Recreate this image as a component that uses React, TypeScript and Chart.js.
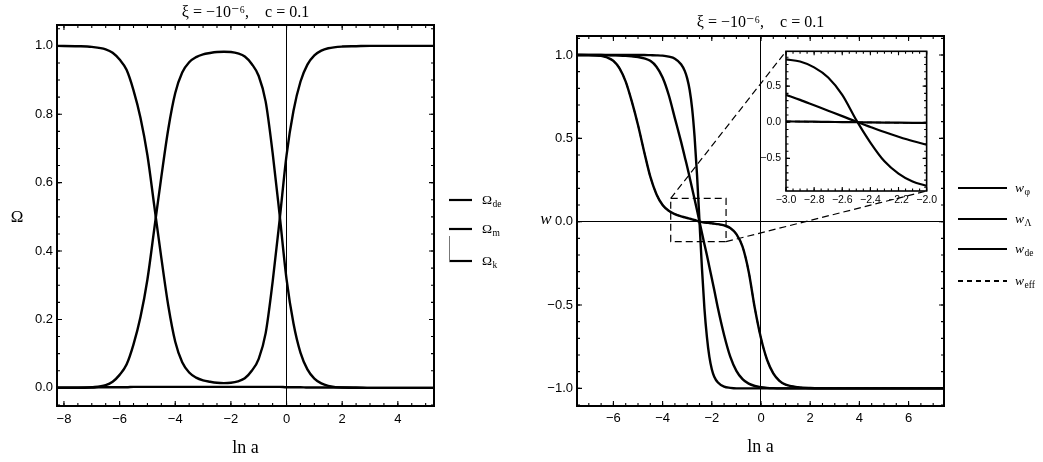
import React, { useEffect, useRef } from 'react';
import { Chart, registerables } from 'chart.js';

Chart.register(...registerables);

// ---------------- data: left panel (density parameters) ----------------
const lnALeft = [-8.25, -7.5, -7, -6.5, -6.25, -6, -5.75, -5.5, -5.25, -5, -4.75, -4.5, -4.25, -4, -3.75, -3.5, -3.25, -3, -2.75, -2.5, -2.25, -2, -1.75, -1.5, -1.25, -1, -0.75, -0.5, -0.25, 0, 0.25, 0.5, 0.75, 1, 1.25, 1.5, 2, 2.5, 3, 4, 5.3];
const omegaDe = [1.0, 0.999, 0.997, 0.99, 0.98, 0.96, 0.93, 0.87, 0.79, 0.68, 0.53, 0.38, 0.24, 0.135, 0.075, 0.045, 0.03, 0.022, 0.018, 0.015, 0.014, 0.015, 0.019, 0.028, 0.05, 0.085, 0.16, 0.31, 0.49, 0.68, 0.81, 0.895, 0.945, 0.972, 0.986, 0.993, 0.998, 0.999, 1.0, 1.0, 1.0];
const omegaM = [0.0, 0.0, 0.002, 0.008, 0.018, 0.038, 0.068, 0.127, 0.207, 0.317, 0.467, 0.617, 0.757, 0.862, 0.922, 0.952, 0.967, 0.975, 0.979, 0.982, 0.983, 0.982, 0.978, 0.969, 0.947, 0.912, 0.837, 0.687, 0.507, 0.318, 0.188, 0.103, 0.054, 0.027, 0.013, 0.006, 0.001, 0.001, 0.0, 0.0, 0.0];
const omegaK = [0.001, 0.001, 0.001, 0.002, 0.002, 0.002, 0.002, 0.003, 0.003, 0.003, 0.003, 0.003, 0.003, 0.003, 0.003, 0.003, 0.003, 0.003, 0.003, 0.003, 0.003, 0.003, 0.003, 0.003, 0.003, 0.003, 0.003, 0.003, 0.003, 0.002, 0.002, 0.002, 0.001, 0.001, 0.001, 0.001, 0.001, 0.0, 0.0, 0.0, 0.0];
const leftXTicks = [-8, -6, -4, -2, 0, 2, 4];
const leftYTicks = [0, 0.2, 0.4, 0.6, 0.8, 1.0];

// ---------------- data: right panel (equation of state) ----------------
const lnARight = [-7.48, -7, -6.5, -6.25, -6, -5.75, -5.5, -5.25, -5, -4.75, -4.5, -4.25, -4, -3.75, -3.5, -3.25, -3.1, -3, -2.9, -2.8, -2.7, -2.6, -2.5, -2.4, -2.3, -2.2, -2.1, -2, -1.9, -1.75, -1.5, -1.25, -1, -0.75, -0.5, -0.25, 0, 0.25, 0.5, 0.75, 1, 1.5, 2, 3, 7.44];
const wPhi = [1.0, 1.0, 1.0, 1.0, 1.0, 1.0, 1.0, 1.0, 1.0, 1.0, 0.999, 0.998, 0.996, 0.99, 0.978, 0.945, 0.905, 0.86, 0.79, 0.68, 0.51, 0.28, 0.0, -0.28, -0.52, -0.69, -0.81, -0.885, -0.93, -0.965, -0.99, -0.997, -1.0, -1.0, -1.0, -1.0, -1.0, -1.0, -1.0, -1.0, -1.0, -1.0, -1.0, -1.0, -1.0];
const wLambda = [1.0, 1.0, 1.0, 0.999, 0.998, 0.997, 0.995, 0.992, 0.988, 0.98, 0.965, 0.93, 0.865, 0.76, 0.62, 0.48, 0.39, 0.33, 0.265, 0.2, 0.135, 0.068, 0.0, -0.068, -0.135, -0.2, -0.27, -0.34, -0.41, -0.52, -0.68, -0.81, -0.895, -0.945, -0.972, -0.986, -0.993, -0.997, -0.999, -1.0, -1.0, -1.0, -1.0, -1.0, -1.0];
const wDe = [1.0, 0.999, 0.995, 0.985, 0.965, 0.92, 0.84, 0.72, 0.58, 0.42, 0.27, 0.165, 0.1, 0.065, 0.045, 0.032, 0.026, 0.022, 0.018, 0.014, 0.01, 0.005, 0.0, -0.003, -0.005, -0.007, -0.008, -0.01, -0.012, -0.015, -0.022, -0.038, -0.075, -0.15, -0.3, -0.52, -0.7, -0.83, -0.91, -0.955, -0.978, -0.993, -0.998, -1.0, -1.0];
const wEff = [1.0, 0.999, 0.995, 0.985, 0.965, 0.92, 0.84, 0.72, 0.58, 0.42, 0.27, 0.165, 0.1, 0.065, 0.045, 0.032, 0.026, 0.022, 0.018, 0.014, 0.01, 0.005, 0.0, -0.003, -0.005, -0.007, -0.008, -0.01, -0.012, -0.015, -0.022, -0.038, -0.075, -0.15, -0.3, -0.52, -0.7, -0.83, -0.91, -0.955, -0.978, -0.993, -0.998, -1.0, -1.0];
const rightXTicks = [-6, -4, -2, 0, 2, 4, 6];
const rightYTicks = [-1, -0.5, 0, 0.5, 1];

// ---------------- data: inset ----------------
const insetX = [-3.0, -2.9, -2.8, -2.7, -2.6, -2.5, -2.4, -2.3, -2.2, -2.1, -2.0];
const insetWPhi = [0.87, 0.84, 0.76, 0.62, 0.38, 0.03, -0.28, -0.54, -0.71, -0.82, -0.88];
const insetWLambda = [0.38, 0.31, 0.235, 0.16, 0.085, 0.007, -0.065, -0.135, -0.2, -0.26, -0.31];
const insetWDe = [0.012, 0.01, 0.008, 0.005, 0.003, 0.0, -0.002, -0.004, -0.006, -0.008, -0.01];
const insetWEff = [0.012, 0.01, 0.008, 0.005, 0.003, 0.0, -0.002, -0.004, -0.006, -0.008, -0.01];
const insetXTicks = [-3.0, -2.8, -2.6, -2.4, -2.2, -2.0];
const insetYTicks = [-0.5, 0, 0.5];

// zoomed region marked on the right panel (data coordinates)
const zoomBoxX = [-3.67, -1.42];
const zoomBoxY = [-0.12, 0.14];

// ---------------- styling ----------------
const SANS = "'Liberation Sans', Arial, sans-serif";
const SERIF = "'Liberation Serif', 'DejaVu Serif', 'Times New Roman', serif";
const INK = '#000';

const LEFT_POS = { left: 0, top: 0, width: 520, height: 462 };
const RIGHT_POS = { left: 520, top: 0, width: 523, height: 462 };
const INSET_POS = { left: 740, top: 40, width: 200, height: 175 };

const pts = (xs: number[], ys: number[]) => xs.map((x, i) => ({ x, y: ys[i] }));
const fmt = (d: number) => (v: any) => Number(v).toFixed(d).replace('-', '\u2212');

const frameTicks = {
  id: 'frameTicks',
  afterDatasetsDraw(chart: any, _args: any, opts: any) {
    const { ctx, chartArea: a } = chart;
    const xs = chart.scales.x;
    const ys = chart.scales.y;
    ctx.save();
    ctx.strokeStyle = INK;
    ctx.lineWidth = 1.1;
    const along = (scale: any, step: number, len: number, horizontal: boolean) => {
      const i0 = Math.ceil(scale.min / step - 1e-6);
      const i1 = Math.floor(scale.max / step + 1e-6);
      ctx.beginPath();
      for (let i = i0; i <= i1; i++) {
        const p = scale.getPixelForValue(i * step);
        if (horizontal) {
          ctx.moveTo(p, a.bottom); ctx.lineTo(p, a.bottom - len);
          ctx.moveTo(p, a.top); ctx.lineTo(p, a.top + len);
        } else {
          ctx.moveTo(a.left, p); ctx.lineTo(a.left + len, p);
          ctx.moveTo(a.right, p); ctx.lineTo(a.right - len, p);
        }
      }
      ctx.stroke();
    };
    along(xs, opts.xMinor, opts.minorLen, true);
    along(xs, opts.xMajor, opts.majorLen, true);
    along(ys, opts.yMinor, opts.minorLen, false);
    along(ys, opts.yMajor, opts.majorLen, false);
    ctx.lineWidth = opts.frameWidth;
    ctx.strokeRect(a.left, a.top, a.right - a.left, a.bottom - a.top);
    ctx.restore();
  },
};

const lineDs = (label: string, data: any, extra: any = {}) => ({
  label,
  data,
  borderColor: '#000',
  backgroundColor: '#000',
  borderWidth: 2.4,
  pointRadius: 0,
  fill: false,
  cubicInterpolationMode: 'monotone',
  ...extra,
});

const zeroGrid = {
  drawTicks: false,
  color: (c: any) => (c.tick && Math.abs(c.tick.value) < 1e-9 ? '#000' : 'rgba(0,0,0,0)'),
  lineWidth: 1,
};

export default function App() {
  const leftRef = useRef<HTMLCanvasElement>(null);
  const rightRef = useRef<HTMLCanvasElement>(null);
  const insetRef = useRef<HTMLCanvasElement>(null);

  useEffect(() => {
    const charts: Chart[] = [];

    // ---------- left chart ----------
    charts.push(
      new Chart(leftRef.current as HTMLCanvasElement, {
        type: 'line',
        data: {
          datasets: [
            lineDs('\u03A9de', pts(lnALeft, omegaDe)),
            lineDs('\u03A9m', pts(lnALeft, omegaM)),
            lineDs('\u03A9k', pts(lnALeft, omegaK)),
          ],
        },
        plugins: [frameTicks],
        options: {
          responsive: false,
          animation: false,
          layout: { padding: { left: 0, right: 86, top: 0, bottom: 0 } },
          plugins: {
            legend: { display: false },
            tooltip: { enabled: false },
            title: {
              display: true,
              fullSize: false,
              text: '\u03BE = \u221210\u207B\u2076,    c = 0.1',
              color: INK,
              font: { family: SERIF, size: 16, weight: 'normal' },
              padding: { top: 3, bottom: 2.8 },
            },
            frameTicks: { xMajor: 2, xMinor: 0.5, yMajor: 0.2, yMinor: 0.05, majorLen: 5, minorLen: 3, frameWidth: 2 },
          } as any,
          scales: {
            x: {
              type: 'linear',
              min: -8.25,
              max: 5.3,
              afterBuildTicks: (s: any) => { s.ticks = leftXTicks.map((v) => ({ value: v })); },
              afterFit: (s: any) => { s.height = 56; },
              grid: zeroGrid,
              border: { display: false },
              ticks: { color: INK, font: { family: SANS, size: 13 }, padding: 6, callback: fmt(0), maxRotation: 0 },
              title: { display: true, text: 'ln a', color: INK, font: { family: SERIF, size: 18 }, padding: { top: 0, bottom: 3 } },
            },
            y: {
              type: 'linear',
              min: -0.053,
              max: 1.061,
              afterBuildTicks: (s: any) => { s.ticks = leftYTicks.map((v) => ({ value: v })); },
              afterFit: (s: any) => { s.width = 57; },
              grid: zeroGrid,
              border: { display: false },
              ticks: { color: INK, font: { family: SANS, size: 13 }, padding: 4, callback: fmt(1) },
            },
          },
        } as any,
      })
    );

    // ---------- inset chart ----------
    const inset = new Chart(insetRef.current as HTMLCanvasElement, {
      type: 'line',
      data: {
        datasets: [
          lineDs('w\u03C6', pts(insetX, insetWPhi), { borderWidth: 2.2 }),
          lineDs('w\u039B', pts(insetX, insetWLambda), { borderWidth: 2.2 }),
          lineDs('wde', pts(insetX, insetWDe), { borderWidth: 2.2 }),
          lineDs('weff', pts(insetX, insetWEff), { borderWidth: 1.5, borderDash: [5, 4] }),
        ],
      },
      plugins: [frameTicks],
      options: {
        responsive: false,
        animation: false,
        layout: { padding: { left: 0, right: 12, top: 9, bottom: 0 } },
        plugins: {
          legend: { display: false },
          tooltip: { enabled: false },
          frameTicks: { xMajor: 0.2, xMinor: 0.05, yMajor: 0.5, yMinor: 0.1, majorLen: 4, minorLen: 2.5, frameWidth: 1.6 },
        } as any,
        scales: {
          x: {
            type: 'linear',
            min: -3.0,
            max: -2.0,
            afterBuildTicks: (s: any) => { s.ticks = insetXTicks.map((v) => ({ value: v })); },
            afterFit: (s: any) => { s.height = 24; },
            grid: { display: false, drawTicks: false },
            border: { display: false },
            ticks: { color: INK, font: { family: SANS, size: 10.5 }, padding: 3, callback: fmt(1), maxRotation: 0, autoSkip: false },
          },
          y: {
            type: 'linear',
            min: -0.951,
            max: 0.982,
            afterBuildTicks: (s: any) => { s.ticks = insetYTicks.map((v) => ({ value: v })); },
            afterFit: (s: any) => { s.width = 46; },
            grid: { display: false, drawTicks: false },
            border: { display: false },
            ticks: { color: INK, font: { family: SANS, size: 10.5 }, padding: 5, callback: fmt(1) },
          },
        },
      } as any,
    });
    charts.push(inset);

    const zoomBox = {
      id: 'zoomBox',
      afterDatasetsDraw(chart: any) {
        const { ctx } = chart;
        const xs = chart.scales.x;
        const ys = chart.scales.y;
        const x0 = xs.getPixelForValue(zoomBoxX[0]);
        const x1 = xs.getPixelForValue(zoomBoxX[1]);
        const yT = ys.getPixelForValue(zoomBoxY[1]);
        const yB = ys.getPixelForValue(zoomBoxY[0]);
        ctx.save();
        ctx.strokeStyle = INK;
        ctx.lineWidth = 1.2;
        ctx.setLineDash([7, 4]);
        ctx.strokeRect(x0, yT, x1 - x0, yB - yT);
        const ia = inset.chartArea;
        if (ia) {
          const dx = INSET_POS.left - RIGHT_POS.left;
          const dy = INSET_POS.top - RIGHT_POS.top;
          ctx.beginPath();
          ctx.moveTo(x0, yT);
          ctx.lineTo(ia.left + dx, ia.top + dy);
          ctx.moveTo(x1, yB);
          ctx.lineTo(ia.right + dx, ia.bottom + dy);
          ctx.stroke();
        }
        ctx.restore();
      },
    };

    // ---------- right chart ----------
    charts.push(
      new Chart(rightRef.current as HTMLCanvasElement, {
        type: 'line',
        data: {
          datasets: [
            lineDs('weff', pts(lnARight, wEff), { borderDash: [5, 4], borderWidth: 1.5 }),
            lineDs('w\u03C6', pts(lnARight, wPhi)),
            lineDs('w\u039B', pts(lnARight, wLambda)),
            lineDs('wde', pts(lnARight, wDe)),
          ],
        },
        plugins: [frameTicks, zoomBox],
        options: {
          responsive: false,
          animation: false,
          layout: { padding: { left: 0, right: 99, top: 0, bottom: 0 } },
          plugins: {
            legend: { display: false },
            tooltip: { enabled: false },
            title: {
              display: true,
              fullSize: false,
              text: '\u03BE = \u221210\u207B\u2076,    c = 0.1',
              color: INK,
              font: { family: SERIF, size: 16, weight: 'normal' },
              padding: { top: 13, bottom: 3.8 },
            },
            frameTicks: { xMajor: 2, xMinor: 0.5, yMajor: 0.5, yMinor: 0.1, majorLen: 5, minorLen: 3, frameWidth: 2 },
          } as any,
          scales: {
            x: {
              type: 'linear',
              min: -7.48,
              max: 7.44,
              afterBuildTicks: (s: any) => { s.ticks = rightXTicks.map((v) => ({ value: v })); },
              afterFit: (s: any) => { s.height = 56; },
              grid: zeroGrid,
              border: { display: false },
              ticks: { color: INK, font: { family: SANS, size: 13 }, padding: 5, callback: fmt(0), maxRotation: 0 },
              title: { display: true, text: 'ln a', color: INK, font: { family: SERIF, size: 18 }, padding: { top: 0, bottom: 4 } },
            },
            y: {
              type: 'linear',
              min: -1.106,
              max: 1.114,
              afterBuildTicks: (s: any) => { s.ticks = rightYTicks.map((v) => ({ value: v })); },
              afterFit: (s: any) => { s.width = 57; },
              grid: zeroGrid,
              border: { display: false },
              ticks: { color: INK, font: { family: SANS, size: 13 }, padding: 4, callback: fmt(1) },
            },
          },
        } as any,
      })
    );

    return () => charts.forEach((c) => c.destroy());
  }, []);

  const canvasStyle = (p: any): React.CSSProperties => ({
    position: 'absolute', left: p.left, top: p.top, width: p.width, height: p.height,
  });

  const sub = (t: string): React.ReactNode => (
    <span style={{ fontSize: 9.5, position: 'relative', top: 3, fontStyle: 'normal', marginLeft: 0.5 }}>{t}</span>
  );

  const legendRow = (y: number, x0: number, len: number, label: React.ReactNode, dashed = false, key = '') => (
    <div key={key} style={{ position: 'absolute', left: x0, top: y - 10, height: 20, display: 'flex', alignItems: 'center', whiteSpace: 'nowrap' }}>
      <svg width={len} height={20} style={{ display: 'block' }}>
        <line x1={0} y1={10} x2={len} y2={10} stroke="#000" strokeWidth={2.2} strokeDasharray={dashed ? '5 4' : undefined} />
      </svg>
      <span style={{ marginLeft: len > 30 ? 8 : 10, fontFamily: SERIF, fontSize: 13.5, color: INK, lineHeight: '20px' }}>{label}</span>
    </div>
  );

  return (
    <div style={{ position: 'fixed', left: 0, top: 0, width: 1043, height: 462, background: '#fff', overflow: 'hidden' }}>
      <canvas ref={leftRef} width={LEFT_POS.width} height={LEFT_POS.height} style={canvasStyle(LEFT_POS)} />
      <canvas ref={rightRef} width={RIGHT_POS.width} height={RIGHT_POS.height} style={canvasStyle(RIGHT_POS)} />
      <canvas ref={insetRef} width={INSET_POS.width} height={INSET_POS.height} style={canvasStyle(INSET_POS)} />

      {/* vertical axis labels (upright, as in the original) */}
      <div style={{ position: 'absolute', left: 17, top: 217, transform: 'translate(-50%, -50%)', fontFamily: SERIF, fontSize: 17, color: INK }}>{'\u03A9'}</div>
      <div style={{ position: 'absolute', left: 546, top: 221, transform: 'translate(-50%, -60%)', fontFamily: SERIF, fontSize: 17, fontStyle: 'italic', color: INK }}>w</div>

      {/* left legend */}
      {legendRow(200, 449, 23, <span>{'\u03A9'}{sub('de')}</span>, false, 'l1')}
      {legendRow(229, 449, 23, <span>{'\u03A9'}{sub('m')}</span>, false, 'l2')}
      {legendRow(261, 449, 23, <span>{'\u03A9'}{sub('k')}</span>, false, 'l3')}
      <div style={{ position: 'absolute', left: 449, top: 236, width: 1, height: 26, background: '#777' }} />

      {/* right legend */}
      {legendRow(188, 958, 49, <span><i>w</i>{sub('\u03C6')}</span>, false, 'r1')}
      {legendRow(219, 958, 49, <span><i>w</i>{sub('\u039B')}</span>, false, 'r2')}
      {legendRow(249, 958, 49, <span><i>w</i>{sub('de')}</span>, false, 'r3')}
      {legendRow(281, 958, 49, <span><i>w</i>{sub('eff')}</span>, true, 'r4')}
    </div>
  );
}
